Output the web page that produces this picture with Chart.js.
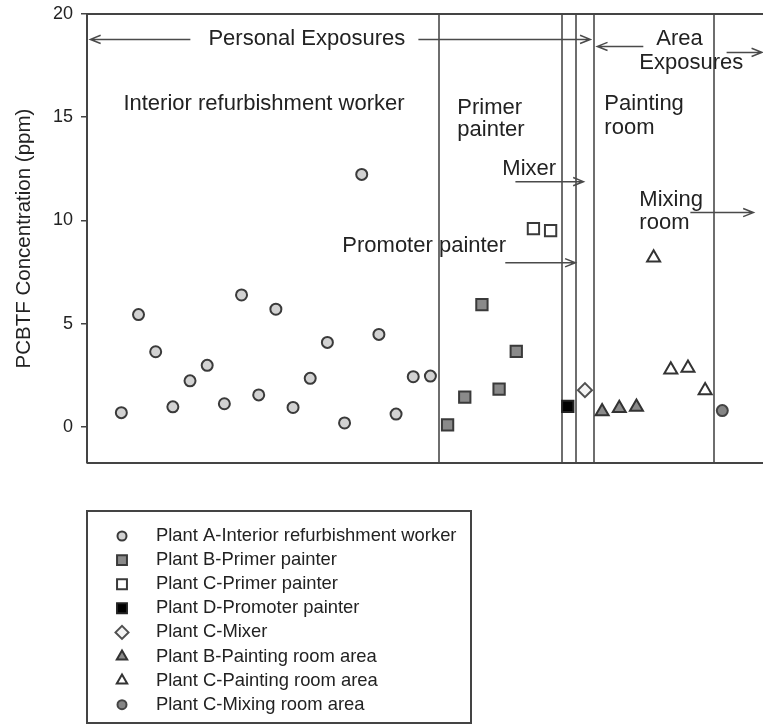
<!DOCTYPE html>
<html>
<head>
<meta charset="utf-8">
<script src="https://cdn.jsdelivr.net/npm/chart.js@4.4.1/dist/chart.umd.min.js"></script>
<style>
  html, body { margin: 0; padding: 0; background: #fff; }
  #box { width: 763px; height: 726px; position: relative; }
</style>
</head>
<body>
<div id="box"><canvas id="pcbtf"></canvas></div>
<script>
// PCBTF concentration (ppm) per sample, in plotting order
const plantA = [0.69, 5.44, 3.64, 0.97, 2.23, 2.98, 1.12, 6.39, 1.55, 5.70, 0.94, 2.35, 4.09, 0.19, 12.23, 4.48, 0.62, 2.43, 2.46];
const plantBPrimer = [0.10, 1.44, 5.92, 1.83, 3.66];
const plantCPrimer = [9.60, 9.51];
const plantDPromoter = [0.99];
const plantCMixer = [1.78];
const plantBPainting = [0.74, 0.90, 0.96];
const plantCPainting = [8.19, 2.77, 2.85, 1.76];
const plantCMixingRoom = [0.79];

const yTicks = [0, 5, 10, 15, 20];
// group separators, in sample units
const dividers = [19.5, 26.68, 27.5, 28.5, 35.5];

const FONT = '"Liberation Sans", Arial, Helvetica, sans-serif';

// text labels inside the plot (data units, left aligned)
const notes = [
  { text: 'Personal Exposures', x: 6.07, y: 18.77 },
  { text: 'Interior refurbishment worker', x: 1.12, y: 15.62 },
  { text: 'Primer', x: 20.57, y: 15.47 },
  { text: 'painter', x: 20.57, y: 14.36 },
  { text: 'Painting', x: 29.13, y: 15.66 },
  { text: 'room', x: 29.13, y: 14.5 },
  { text: 'Area', x: 32.16, y: 18.77 },
  { text: 'Exposures', x: 31.17, y: 17.65 },
  { text: 'Mixer', x: 23.19, y: 12.51 },
  { text: 'Mixing', x: 31.17, y: 11.01 },
  { text: 'room', x: 31.17, y: 9.89 },
  { text: 'Promoter painter', x: 13.87, y: 8.78 }
];
// arrows, head at "to"
const arrows = [
  { from: [5.02, 18.77], to: [-0.8, 18.77] },
  { from: [18.30, 18.77], to: [28.31, 18.77] },
  { from: [31.40, 18.43], to: [28.72, 18.43] },
  { from: [36.25, 18.14], to: [38.30, 18.14] },
  { from: [23.95, 11.88], to: [27.91, 11.88] },
  { from: [34.14, 10.38], to: [37.81, 10.38] },
  { from: [23.36, 7.95], to: [27.44, 7.95] }
];

const series = [
  { label: 'Plant A-Interior refurbishment worker', vals: plantA, style: 'circle', r: 5.5, bg: '#d2d2d2', bd: '#3a3a3a', lr: 4.5 },
  { label: 'Plant B-Primer painter', vals: plantBPrimer, style: 'rect', r: 8, bg: '#8a8a8a', bd: '#3a3a3a', lr: 7 },
  { label: 'Plant C-Primer painter', vals: plantCPrimer, style: 'rect', r: 8, bg: '#ffffff', bd: '#3a3a3a', lr: 7 },
  { label: 'Plant D-Promoter painter', vals: plantDPromoter, style: 'rect', r: 8, bg: '#000000', bd: '#222222', lr: 7 },
  { label: 'Plant C-Mixer', vals: plantCMixer, style: 'rectRot', r: 7, bg: '#f4f4f4', bd: '#505050', lr: 6.5 },
  { label: 'Plant B-Painting room area', vals: plantBPainting, style: 'triangle', r: 7.5, bg: '#8a8a8a', bd: '#333333', lr: 6 },
  { label: 'Plant C-Painting room area', vals: plantCPainting, style: 'triangle', r: 7.5, bg: '#ffffff', bd: '#333333', lr: 6 },
  { label: 'Plant C-Mixing room area', vals: plantCMixingRoom, style: 'circle', r: 5.5, bg: '#858585', bd: '#444444', lr: 4.5 }
];

// samples are numbered one after another across the groups
let sampleNo = 0;
const datasets = series.map(s => ({
  label: s.label,
  data: s.vals.map(v => ({ x: ++sampleNo, y: v })),
  pointStyle: s.style,
  pointRadius: s.r,
  pointBackgroundColor: s.bg,
  pointBorderColor: s.bd,
  pointBorderWidth: 2,
  legendRadius: s.lr,
  showLine: false
}));

function arrow(ctx, x1, y1, x2, y2) {
  const a = Math.atan2(y2 - y1, x2 - x1);
  const len = 11, spread = 0.38;
  ctx.beginPath();
  ctx.moveTo(x1, y1);
  ctx.lineTo(x2, y2);
  ctx.moveTo(x2 - len * Math.cos(a - spread), y2 - len * Math.sin(a - spread));
  ctx.lineTo(x2, y2);
  ctx.lineTo(x2 - len * Math.cos(a + spread), y2 - len * Math.sin(a + spread));
  ctx.stroke();
}

const decorations = {
  id: 'decorations',
  beforeDatasetsDraw(chart) {
    const { ctx, chartArea: ca, scales: { x, y } } = chart;
    ctx.save();
    // separators
    ctx.strokeStyle = '#6e6e6e';
    ctx.lineWidth = 2;
    dividers.forEach(d => {
      const px = Math.round(x.getPixelForValue(d));
      ctx.beginPath();
      ctx.moveTo(px, ca.top);
      ctx.lineTo(px, ca.bottom);
      ctx.stroke();
    });
    // frame: top and bottom
    ctx.strokeStyle = '#444';
    ctx.lineWidth = 2;
    ctx.beginPath();
    ctx.moveTo(ca.left, ca.top);
    ctx.lineTo(ca.right, ca.top);
    ctx.moveTo(ca.left, ca.bottom);
    ctx.lineTo(ca.right, ca.bottom);
    ctx.stroke();
    // arrows
    ctx.strokeStyle = '#4a4a4a';
    ctx.lineWidth = 1.5;
    arrows.forEach(a => arrow(ctx,
      x.getPixelForValue(a.from[0]), y.getPixelForValue(a.from[1]),
      x.getPixelForValue(a.to[0]), y.getPixelForValue(a.to[1])));
    // labels
    ctx.fillStyle = '#222';
    ctx.font = '22px ' + FONT;
    ctx.textAlign = 'left';
    ctx.textBaseline = 'middle';
    notes.forEach(n => ctx.fillText(n.text, x.getPixelForValue(n.x), y.getPixelForValue(n.y)));
    ctx.restore();
  }
};

const boxLegend = {
  id: 'boxLegend',
  afterDraw(chart) {
    const ctx = chart.ctx;
    const left = 87, top = 511, right = 471, bottom = 723;
    ctx.save();
    ctx.strokeStyle = '#444';
    ctx.lineWidth = 2;
    ctx.strokeRect(left, top, right - left, bottom - top);
    ctx.font = '18.4px ' + FONT;
    ctx.textAlign = 'left';
    ctx.textBaseline = 'middle';
    chart.data.datasets.forEach((ds, i) => {
      const cy = 536 + i * 24.1;
      ctx.fillStyle = ds.pointBackgroundColor;
      ctx.strokeStyle = ds.pointBorderColor;
      ctx.lineWidth = 2;
      Chart.helpers.drawPoint(ctx, {
        pointStyle: ds.pointStyle, rotation: 0, radius: ds.legendRadius, borderWidth: 2
      }, 122, cy);
      ctx.fillStyle = '#222';
      ctx.fillText(ds.label, 156, cy);
    });
    ctx.restore();
  }
};

new Chart(document.getElementById('pcbtf'), {
  type: 'scatter',
  data: { datasets: datasets },
  options: {
    responsive: true,
    maintainAspectRatio: false,
    animation: false,
    layout: { autoPadding: false, padding: { top: 14, right: 0, bottom: 263, left: 0 } },
    plugins: { legend: { display: false }, tooltip: { enabled: false } },
    scales: {
      x: { type: 'linear', min: -1, max: 38.37, display: false },
      y: {
        min: -1.75,
        max: 20,
        afterBuildTicks: scale => { scale.ticks = yTicks.map(v => ({ value: v })); },
        afterFit: scale => { scale.width = 87; scale.paddingTop = 0; scale.paddingBottom = 0; },
        ticks: { color: '#222', padding: 8, font: { family: FONT, size: 18 } },
        grid: { drawOnChartArea: false, tickLength: 6, color: '#444', lineWidth: 1.5 },
        border: { color: '#444', width: 2 },
        title: {
          display: true,
          text: 'PCBTF Concentration (ppm)',
          color: '#222',
          padding: { top: 12, bottom: 0 },
          font: { family: FONT, size: 20.5 }
        }
      }
    }
  },
  plugins: [decorations, boxLegend]
});
</script>
</body>
</html>
